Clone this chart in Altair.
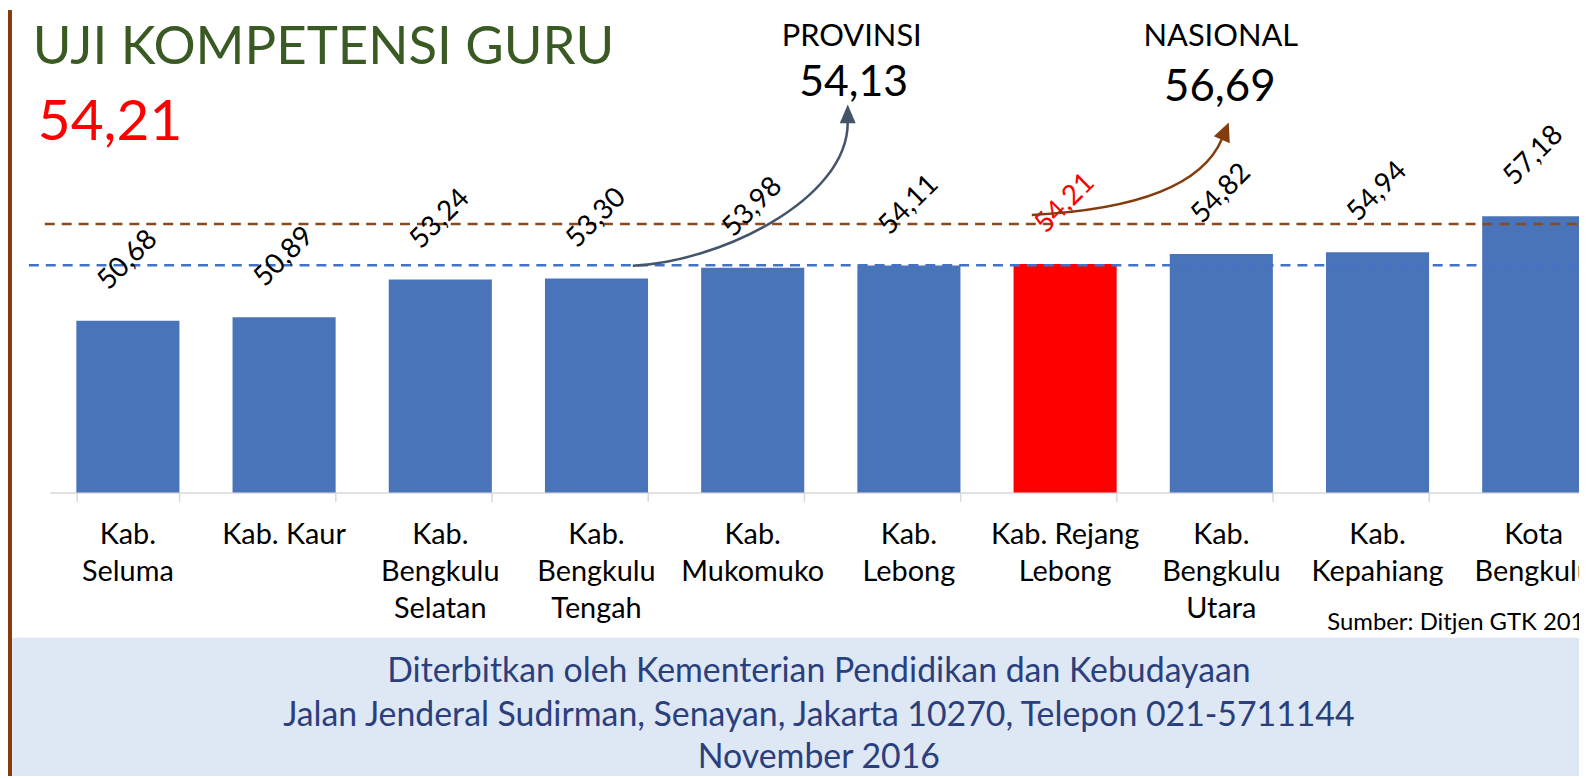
import altair as alt
import pandas as pd

# ---- data -------------------------------------------------------------
categories = ["Kab. Seluma", "Kab. Kaur", "Kab. Bengkulu Selatan", "Kab. Bengkulu Tengah",
              "Kab. Mukomuko", "Kab. Lebong", "Kab. Rejang Lebong", "Kab. Bengkulu Utara",
              "Kab. Kepahiang", "Kota Bengkulu"]
axis_labels = ["Kab.|Seluma", "Kab. Kaur", "Kab.|Bengkulu|Selatan", "Kab.|Bengkulu|Tengah",
               "Kab.|Mukomuko", "Kab.|Lebong", "Kab. Rejang|Lebong", "Kab.|Bengkulu|Utara",
               "Kab.|Kepahiang", "Kota|Bengkulu"]
scores = [50.68, 50.89, 53.24, 53.30, 53.98, 54.11, 54.21, 54.82, 54.94, 57.18]
highlight = "Kab. Rejang Lebong"
provinsi = 54.13
nasional = 56.69
kabupaten_score = "54,21"

BLUE = "#4a74b9"
RED = "#ff0000"
BROWN = "#8a4a1f"
ARROW_BLUE = "#44546a"
ARROW_BROWN = "#843c0c"
FONT = "Lato"

df = pd.DataFrame({
    "cat": categories,
    "lab": axis_labels,
    "v": scores,
    "txt": [f"{s:.2f}".replace(".", ",") for s in scores],
    "bar_color": [RED if c == highlight else BLUE for c in categories],
    "txt_color": [RED if c == highlight else "#000000" for c in categories],
})
one = pd.DataFrame({"a": [0]})

W, H = 1579, 485
x_scale = alt.Scale(range=[42, 1612], paddingInner=0.34, paddingOuter=0.17)
y_scale = alt.Scale(domain=[40, 70], zero=False, nice=False)

base = alt.Chart(df)

band = alt.Chart(one).mark_rect(color="#dee8f4").encode(
    x=alt.value(0), x2=alt.value(W), y=alt.value(631), y2=alt.value(770))
stripe = alt.Chart(one).mark_rect(color="#843c0c").encode(
    x=alt.value(0), x2=alt.value(4), y=alt.value(0), y2=alt.value(770))

bars = base.mark_bar().encode(
    x=alt.X("cat:N", sort=None, scale=x_scale,
            axis=alt.Axis(labels=False, title=None, domainColor="#d9d9d9", domainWidth=1.5,
                          tickColor="#d9d9d9", tickWidth=1.5, tickSize=9, tickBand="extent",
                          grid=False)),
    y=alt.Y("v:Q", scale=y_scale, axis=None),
    y2=alt.datum(40),
    color=alt.Color("bar_color:N", scale=None),
)

rule_prov = alt.Chart(one).mark_rule(color="#4472c4", strokeWidth=2.5, strokeDash=[10, 7]).encode(
    y=alt.datum(provinsi), x=alt.value(21), x2=alt.value(W))
rule_nas = alt.Chart(one).mark_rule(color=BROWN, strokeWidth=2.5, strokeDash=[10, 7]).encode(
    y=alt.datum(nasional), x=alt.value(37), x2=alt.value(W))

value_labels = base.transform_calculate(ly="datum.v + 3.75").mark_text(
    font=FONT, fontSize=28, angle=315, align="center", baseline="middle").encode(
    x=alt.X("cat:N", sort=None),
    y=alt.Y("ly:Q"),
    text="txt:N",
    color=alt.Color("txt_color:N", scale=None),
)

cat_labels = base.mark_text(font=FONT, fontSize=29, lineBreak="|", lineHeight=37,
                            align="center", baseline="alphabetic", color="#000000").encode(
    x=alt.X("cat:N", sort=None),
    y=alt.value(537),
    text="lab:N",
)

def txt(s, x, y, size, color="#000000", align="center"):
    return alt.Chart(one).mark_text(font=FONT, fontSize=size, color=color, align=align,
                                    baseline="alphabetic").encode(
        x=alt.value(x), y=alt.value(y), text=alt.value(s))

FOOT = "#2b3f7c"
title = txt("UJI KOMPETENSI GURU", 25, 54, 53, "#3a5a24", "left")
big = txt(kabupaten_score, 30, 131, 57, RED, "left")
prov_t = txt("PROVINSI", 848, 36, 31)
prov_v = txt(f"{provinsi:.2f}".replace(".", ","), 850, 86, 43)
nas_t = txt("NASIONAL", 1219, 36, 31)
nas_v = txt(f"{nasional:.2f}".replace(".", ","), 1218, 92, 44)
source = txt("Sumber: Ditjen GTK 2016", 1326, 623, 24, "#000000", "left")
foot1 = txt("Diterbitkan oleh Kementerian Pendidikan dan Kebudayaan", 815, 675, 34, FOOT)
foot2 = txt("Jalan Jenderal Sudirman, Senayan, Jakarta 10270, Telepon 021-5711144", 815, 720, 34, FOOT)
foot3 = txt("November 2016", 815, 762, 34, FOOT)

# curved arrows drawn as custom symbol paths (size=4 -> 1 path unit = 1 px)
arrow1_path = "M628,257 C712,254 844,192 844,113"
head1_path = "M844,95 L836,114 L852,114 Z"
arrow2_path = "M1029,206 C1129,201 1199,179 1220,130"
head2_path = "M1227,113 L1212,127 L1228,134 Z"

def path_mark(p, color, filled):
    if filled:
        m = alt.Chart(one).mark_point(shape=p, filled=True, color=color, size=4, opacity=1,
                                      strokeWidth=0)
    else:
        m = alt.Chart(one).mark_point(shape=p, filled=False, color=color, size=4, opacity=1,
                                      strokeWidth=2.5)
    return m.encode(x=alt.value(0), y=alt.value(0))

arrows = [path_mark(arrow1_path, ARROW_BLUE, False), path_mark(head1_path, ARROW_BLUE, True),
          path_mark(arrow2_path, ARROW_BROWN, False), path_mark(head2_path, ARROW_BROWN, True)]

chart = alt.layer(
    band, stripe, bars, rule_prov, rule_nas, value_labels, cat_labels,
    title, big, prov_t, prov_v, nas_t, nas_v, source, foot1, foot2, foot3, *arrows
).properties(
    width=W, height=H,
    autosize=alt.AutoSizeParams(type="none"),
    padding={"left": 0, "top": 0, "right": 0, "bottom": 285},
).configure_view(stroke=None)

chart.save("out.html", embed_options={"renderer": "svg", "actions": False})
